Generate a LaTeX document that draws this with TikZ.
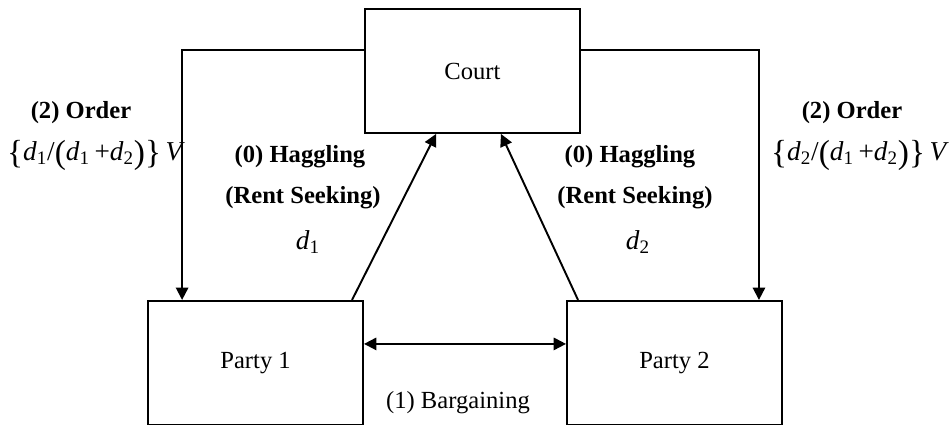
\documentclass[tikz,border=0pt]{standalone}
\usepackage{amsmath}
\usepackage{fontspec}
\setmainfont{Liberation Serif}
\usetikzlibrary{positioning,arrows.meta}
\tikzstyle{actor}=[rectangle, draw=black, line width=1.1pt, minimum width=4.3cm, minimum height=2.48cm,
        inner sep=0pt, text centered, font=\fontsize{14}{17}\selectfont]
\tikzstyle{label}=[align=center, font=\fontsize{14}{17}\selectfont\bfseries]
\tikzstyle{plain}=[align=center, font=\fontsize{14}{17}\selectfont]
\tikzstyle{share}=[inner sep=1pt, font=\fontsize{15.5}{18}\selectfont]
\tikzstyle{myarrow}=[-{Triangle[length=7pt, width=7pt]}, line width=1.1pt]
\newcommand{\dvar}[1]{\textit{d}\textsubscript{#1}}
\newcommand{\tall}[1]{\raisebox{-0.1em}{\fontsize{19}{19}\selectfont #1}}

\begin{document}
\begin{tikzpicture}[node distance=3.32cm and 0cm]
	\useasboundingbox (0,0) rectangle (18.98,8.5);

	\node (Court) [actor] at (9.45,7.08) {Court};

	\node (Party1) [actor, below left=3.32cm and 0cm of Court.south west] {Party 1};
	\node (Party2) [actor, right=4.04cm of Party1] {Party 2};

	% orders from the court
	\node (Order1) [label] at (1.62,6.25) {(2) Order};
	\node (Share1) [share] at (1.92,5.4) {\tall{\{}\dvar{1}/\tall{(}\dvar{1}\,+\dvar{2}\tall{)}\tall{\}}\,\textit{V}};
	\node (Order2) [label] at (17.04,6.25) {(2) Order};
	\node (Share2) [share] at (17.2,5.4) {\tall{\{}\dvar{2}/\tall{(}\dvar{1}\,+\dvar{2}\tall{)}\tall{\}}\,\textit{V}};

	% haggling
	\node (Haggle1) [label] at (6.0,5.36) {(0) Haggling};
	\node (Rent1) [label] at (6.06,4.54) {(Rent Seeking)};
	\node (Cost1) [share] at (6.16,3.66) {\dvar{1}};
	\node (Haggle2) [label] at (12.6,5.36) {(0) Haggling};
	\node (Rent2) [label] at (12.7,4.54) {(Rent Seeking)};
	\node (Cost2) [share] at (12.76,3.66) {\dvar{2}};

	\node (Bargain) [plain] at (9.16,0.44) {(1) Bargaining};

\draw[myarrow] ([yshift=0.42cm]Court.west) -| ([xshift=0.7cm]Party1.north west);
\draw[myarrow] ([yshift=0.42cm]Court.east) -| ([xshift=-0.48cm]Party2.north east);

\draw[myarrow] ([xshift=-0.24cm]Party1.north east) -- ([xshift=1.44cm]Court.south west);
\draw[myarrow] ([xshift=0.24cm]Party2.north west) -- ([xshift=-1.6cm]Court.south east);

\draw[myarrow, {Triangle[length=7pt, width=7pt]}-{Triangle[length=7pt, width=7pt]}]
	([yshift=0.38cm]Party1.east) -- ([yshift=0.38cm]Party2.west);

\end{tikzpicture}
\end{document}
